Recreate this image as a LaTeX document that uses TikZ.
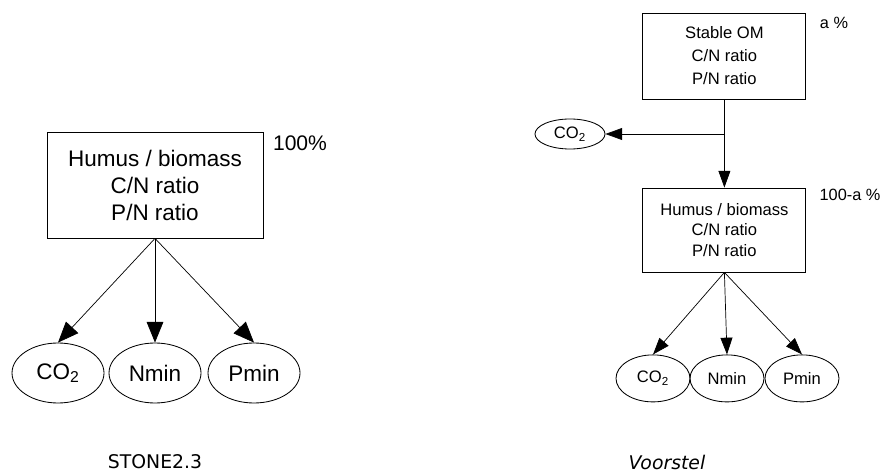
\documentclass[tikz,border=0pt]{standalone}
\usepackage{fontspec}
\setmainfont{Liberation Sans}
\newfontfamily\capfont{DejaVu Sans}
\usetikzlibrary{positioning, arrows.meta, shapes.geometric}
\tikzset{
  hmbox/.style     = {draw, line width=0.6pt, align=center, inner sep=0pt},
  hmbig/.style     = {hmbox, minimum width=5.4cm, minimum height=2.65cm, font=\fontsize{16}{19.2}\selectfont},
  hmsmall/.style   = {hmbox, minimum width=4.075cm, font=\fontsize{11.8}{16.4}\selectfont},
  hmoval/.style    = {ellipse, draw, line width=0.6pt, inner sep=0pt},
  hmovbig/.style   = {hmoval, minimum width=2.3cm, minimum height=1.5cm, font=\fontsize{16}{19}\selectfont},
  hmovsmall/.style = {hmoval, minimum width=1.85cm, minimum height=1.175cm, font=\fontsize{11.8}{14}\selectfont},
  hmgo/.style      = {-{Triangle[length=5.2mm,width=4.2mm]}, line width=0.5pt},
  hmgos/.style     = {-{Triangle[length=4.2mm,width=3mm]}, line width=0.5pt},
  hmpct/.style     = {font=\fontsize{15}{18}\selectfont},
  hmpcts/.style    = {font=\fontsize{11.6}{14}\selectfont},
  hmcap/.style     = {font=\capfont\fontsize{13.4}{16}\selectfont},
}
\newcommand{\cotwo}{CO\textsubscript{2}}

\begin{document}
\begin{tikzpicture}
\useasboundingbox (0,0) rectangle (22.1,11.8);

% STONE2.3
\node[hmbig] (hum) at (3.875,7.175) {Humus / biomass\\C/N ratio\\P/N ratio};
\node[hmpct] (pctl) at (7.5,8.225) {100\%};

\node[hmovbig] (co2l) at (1.45,2.475)  {\cotwo};
\node[hmovbig] (nmil) at (3.875,2.475) {Nmin};
\node[hmovbig] (pmil) at (6.35,2.475)  {Pmin};

\draw[hmgo] (hum.south) -- (co2l.north);
\draw[hmgo] (hum.south) -- (nmil.north);
\draw[hmgo] (hum.south) -- (pmil.north);

\node[hmcap] (capl) at (3.875,0.25) {STONE2.3};

% Voorstel
\node[hmsmall, minimum height=2.15cm] (som) at (18.11,10.4) {Stable OM\\C/N ratio\\P/N ratio};
\node[hmpcts] (pcta) at (20.85,11.225) {a \%};

\coordinate (split) at (18.11,8.45);
\node[hmovsmall, minimum width=1.75cm, minimum height=0.75cm] (co2t) at (14.25,8.45) {\cotwo};

\node[hmsmall, minimum height=2.1cm, font=\fontsize{11.8}{14.6}\selectfont] (humr) at (18.11,6.05)
  {Humus / biomass\\C/N ratio\\P/N ratio};
\node[hmpcts] (pctb) at (21.25,6.925) {100-a \%};

\draw[line width=0.5pt] (som.south) -- (split);
\draw[hmgos] (split) -- (co2t);
\draw[hmgos] (split) -- (humr.north);

\node[hmovsmall] (co2r) at (16.325,2.34) {\cotwo};
\node[hmovsmall] (nmir) at (18.175,2.34) {Nmin};
\node[hmovsmall] (pmir) at (20.05,2.34)  {Pmin};

\draw[hmgos] (humr.south) -- (co2r.north);
\draw[hmgos] (humr.south) -- (nmir.north);
\draw[hmgos] (humr.south) -- (pmir.north);

\node[hmcap, font=\capfont\itshape\fontsize{13.4}{16}\selectfont] (capr) at (16.675,0.25) {Voorstel};
\end{tikzpicture}
\end{document}
